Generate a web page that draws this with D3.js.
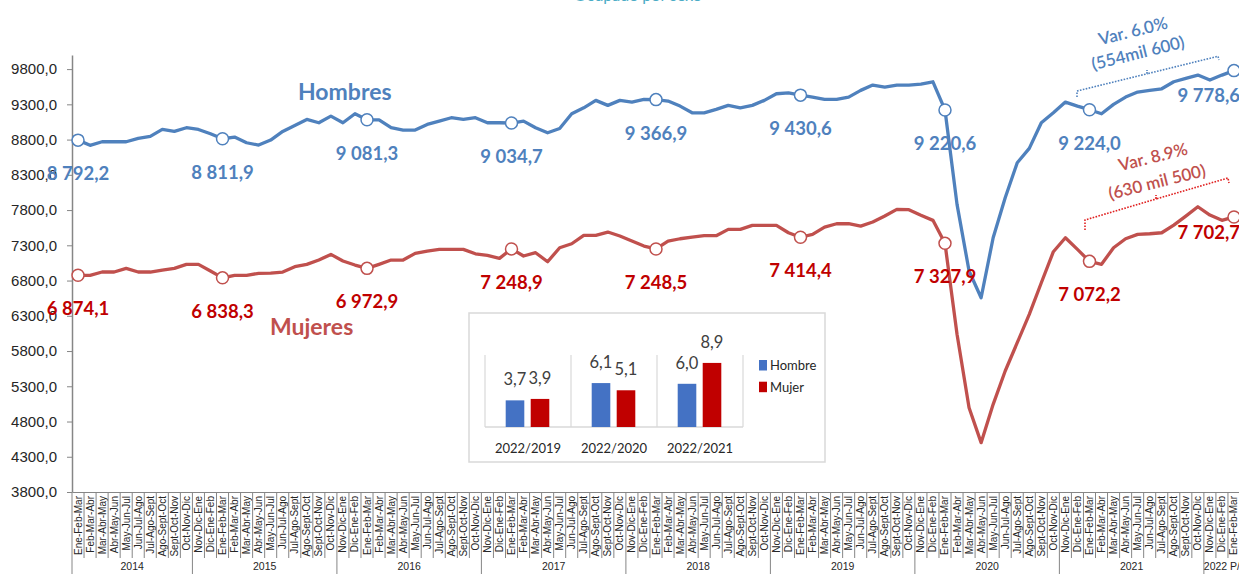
<!DOCTYPE html>
<html>
<head>
<meta charset="utf-8">
<script src="https://cdn.jsdelivr.net/npm/d3@7"></script>
<style>
  body { margin: 0; background: #fff; }
  svg { display: block; font-family: Lato, 'Open Sans', sans-serif; }
</style>
</head>
<body>
<div id="chart"></div>
<script>
// rolling quarters, one year after another
const trimestres = ['Nov-Dic-Ene', 'Dic-Ene-Feb', 'Ene-Feb-Mar', 'Feb-Mar-Abr', 'Mar-Abr-May', 'Abr-May-Jun',
  'May-Jun-Jul', 'Jun-Jul-Ago', 'Jul-Ago-Sept', 'Ago-Sept-Oct', 'Sept-Oct-Nov', 'Oct-Nov-Dic'];
const anios = ['2014', '2015', '2016', '2017', '2018', '2019', '2020', '2021', '2022 P/'];

// miles de personas
const hombres = [
  8792.2, 8718, 8769, 8769, 8769, 8817, 8845, 8944, 8916, 8968, // 2014
  8944, 8882, 8811.9, 8835, 8755, 8722, 8793, 8916, 9001, 9086, 9039, 9133, // 2015
  9039, 9166, 9081.3, 9081, 8968, 8935, 8935, 9015, 9062, 9110, 9086, 9110, // 2016
  9039, 9039, 9034.7, 9062, 8968, 8897, 8958, 9166, 9251, 9356, 9285, 9356, // 2017
  9332, 9370, 9366.9, 9346, 9275, 9180, 9180, 9228, 9285, 9251, 9285, 9356, // 2018
  9450, 9464, 9430.6, 9403, 9370, 9370, 9403, 9498, 9573, 9545, 9573, 9573, // 2019
  9588, 9620, 9220.6, 7881, 6935, 6556, 7407, 7975, 8471, 8675, 9039, 9180, // 2020
  9332, 9275, 9224.0, 9166, 9299, 9403, 9474, 9498, 9521, 9620, 9668, 9715, // 2021
  9644, 9715, 9778.6 // 2022
];
const mujeres = [
  6874.1, 6874, 6921, 6921, 6973, 6921, 6921, 6949, 6973, 7030, // 2014
  7030, 6935, 6838.3, 6874, 6874, 6902, 6905, 6921, 6996, 7030, 7091, 7171, // 2015
  7077, 7020, 6972.9, 7030, 7091, 7091, 7186, 7219, 7242, 7242, 7242, 7180, // 2016
  7157, 7115, 7248.9, 7148, 7195, 7067, 7266, 7322, 7441, 7441, 7488, 7432, // 2017
  7360, 7289, 7248.5, 7360, 7393, 7417, 7436, 7436, 7526, 7526, 7583, 7583, // 2018
  7583, 7478, 7414.4, 7455, 7559, 7606, 7606, 7573, 7630, 7715, 7810, 7805, // 2019
  7725, 7654, 7327.9, 6037, 4996, 4500, 5044, 5517, 5918, 6321, 6769, 7209, // 2020
  7407, 7242, 7072.2, 7030, 7266, 7393, 7455, 7464, 7478, 7587, 7715, 7847, // 2021
  7729, 7654, 7702.7 // 2022
];

// inset: variacion % Ene-Feb-Mar
const periodosVar = ['2022/2019', '2022/2020', '2022/2021'];
const varHombre = [3.7, 6.1, 6.0];
const varMujer = [3.9, 5.1, 8.9];

const width = 1239;
const height = 574;
const blue = '#4f81bd';
const red = '#c0504d';
const darkRed = '#c00000';
const grey = '#868686';

const es = d3.formatLocale({ decimal: ',', thousands: '\u00a0', grouping: [3], currency: ['', ''] });
const fmtTick = es.format('.1f');
const fmtLabel = es.format(',.1f');

// build category list
const periodos = [];
anios.forEach((a, k) => {
  let t = trimestres;
  if (k === 0) t = trimestres.slice(2);
  if (k === anios.length - 1) t = trimestres.slice(0, 3);
  t.forEach((m) => periodos.push({ anio: a, mes: m }));
});

const svg = d3.select('#chart').append('svg')
  .attr('width', width)
  .attr('height', height);

// title, mostly cropped at the top
svg.append('text')
  .attr('x', 638).attr('y', 0.5)
  .attr('text-anchor', 'middle')
  .style('font-size', '16px')
  .style('fill', '#4bacc6')
  .text('Ocupado por sexo');

const x = d3.scaleBand()
  .domain(d3.range(periodos.length))
  .range([72, 1240])
  .padding(0);
const cx = (i) => x(i) + x.bandwidth() / 2;

const y = d3.scaleLinear().domain([3800, 10000]).range([492, 55]);

// Y axis
const gy = svg.append('g')
  .attr('transform', 'translate(72,0)')
  .call(d3.axisLeft(y)
    .tickValues(d3.range(3800, 9801, 500))
    .tickFormat(fmtTick)
    .tickSize(5)
    .tickSizeOuter(0)
    .tickPadding(10));
gy.select('.domain').attr('stroke', grey).attr('stroke-width', 1.5);
gy.selectAll('.tick line').attr('stroke', grey);
gy.selectAll('.tick text')
  .style('font-size', '15px')
  .style('fill', '#262626');

// X axis with rotated quarter labels
const gx = svg.append('g')
  .attr('transform', 'translate(0,492)')
  .call(d3.axisBottom(x)
    .tickFormat((i) => periodos[i].mes)
    .tickSize(0)
    .tickSizeOuter(0));
gx.select('.domain').attr('stroke', grey).attr('stroke-width', 1.2);
gx.selectAll('.tick text')
  .attr('transform', 'rotate(-90)')
  .attr('text-anchor', 'end')
  .attr('x', -4)
  .attr('y', 0)
  .attr('dy', '0.35em')
  .style('font-family', "'Liberation Sans Narrow', 'Arial Narrow', sans-serif")
  .style('font-size', '10px')
  .style('fill', '#262626');

// separators between quarters and between years
const yearStart = [];
periodos.forEach((p, i) => { if (i === 0 || p.anio !== periodos[i - 1].anio) yearStart.push(i); });
yearStart.push(periodos.length);

svg.append('g').selectAll('line')
  .data(d3.range(periodos.length + 1))
  .join('line')
  .attr('x1', (i) => (i < periodos.length ? x(i) : x.range()[1]))
  .attr('x2', (i) => (i < periodos.length ? x(i) : x.range()[1]))
  .attr('y1', 492)
  .attr('y2', (i) => (yearStart.includes(i) ? 574 : 558))
  .attr('stroke', grey)
  .attr('stroke-width', 1);

svg.append('g').selectAll('text')
  .data(yearStart.slice(0, -1))
  .join('text')
  .attr('x', (s, k) => (x(s) + (k + 1 < yearStart.length - 1 ? x(yearStart[k + 1]) : x.range()[1])) / 2)
  .attr('y', 570)
  .attr('text-anchor', 'middle')
  .style('font-family', "'Liberation Sans Narrow', 'Arial Narrow', sans-serif")
  .style('font-size', '10.5px')
  .style('fill', '#262626')
  .text((s) => periodos[s].anio);

// lines
const line = d3.line().x((d, i) => cx(i)).y((d) => y(d));
const series = [
  { name: 'Hombres', values: hombres, color: blue, labelColor: blue, lastDy: 31 },
  { name: 'Mujeres', values: mujeres, color: red, labelColor: darkRed, lastDy: 22 },
];
const markerIdx = d3.range(0, periodos.length, 12);

series.forEach((s) => {
  svg.append('path')
    .datum(s.values)
    .attr('fill', 'none')
    .attr('stroke', s.color)
    .attr('stroke-width', 3.3)
    .attr('stroke-linejoin', 'round')
    .attr('d', line);

  svg.append('g').selectAll('circle')
    .data(markerIdx)
    .join('circle')
    .attr('cx', (i) => cx(i))
    .attr('cy', (i) => y(s.values[i]))
    .attr('r', 6)
    .attr('fill', '#fff')
    .attr('stroke', s.color)
    .attr('stroke-width', 1.5);

  const last = periodos.length - 1;
  svg.append('g').selectAll('text')
    .data(markerIdx)
    .join('text')
    .attr('x', (i) => (i === last ? cx(i) + 6 : cx(i)))
    .attr('y', (i) => y(s.values[i]) + (i === last ? s.lastDy : 40))
    .attr('text-anchor', (i) => (i === last ? 'end' : 'middle'))
    .style('font-size', '18.5px')
    .style('font-weight', 'bold')
    .style('fill', s.labelColor)
    .text((i) => fmtLabel(s.values[i]));
});

// series names
svg.append('text')
  .attr('x', 298).attr('y', 100)
  .style('font-size', '23px').style('font-weight', 'bold')
  .style('fill', blue)
  .text('Hombres');
svg.append('text')
  .attr('x', 270).attr('y', 335)
  .style('font-size', '23px').style('font-weight', 'bold')
  .style('fill', red)
  .text('Mujeres');

// variation annotations with dotted brackets
const notes = [
  { color: blue, lines: [['Var. 6.0%', 1133, 31], ['(554mil 600)', 1138, 53]],
    bracket: 'M1077,97 L1077,91 L1147,73.8 L1147,70 L1147,73.8 L1218,56.3 L1219,60' },
  { color: red, lines: [['Var. 8.9%', 1153, 157], ['(630 mil 500)', 1157, 182]],
    bracket: 'M1085,230 L1085,220 L1156,199 L1156,195 L1156,199 L1228,178 L1229,183' },
];
notes.forEach((n) => {
  n.lines.forEach(([t, tx, ty]) => {
    svg.append('text')
      .attr('transform', `translate(${tx},${ty}) rotate(-14)`)
      .attr('text-anchor', 'middle')
      .attr('dy', '0.35em')
      .style('font-size', '17px')
      .style('font-weight', '600')
      .style('fill', n.color)
      .text(t);
  });
  svg.append('path')
    .attr('d', n.bracket)
    .attr('fill', 'none')
    .attr('stroke', n.color === blue ? blue : '#e02020')
    .attr('stroke-width', 1.6)
    .attr('stroke-dasharray', '1.6,1.4');
});

// inset bar chart
const inset = svg.append('g');
inset.append('rect')
  .attr('x', 469).attr('y', 313)
  .attr('width', 356).attr('height', 149)
  .attr('fill', '#fff')
  .attr('stroke', '#d9d9d9')
  .attr('stroke-width', 1.5);

const xb = d3.scaleBand().domain(periodosVar).range([485, 743]);
const yb = d3.scaleLinear().domain([0, 10]).range([427, 355]);
const barW = 18.6;

inset.append('g').selectAll('line')
  .data(periodosVar.concat(['end']))
  .join('line')
  .attr('x1', (p) => (p === 'end' ? xb.range()[1] : xb(p)))
  .attr('x2', (p) => (p === 'end' ? xb.range()[1] : xb(p)))
  .attr('y1', yb(10)).attr('y2', yb(0))
  .attr('stroke', '#d9d9d9').attr('stroke-width', 1.2);
inset.append('line')
  .attr('x1', xb.range()[0]).attr('x2', xb.range()[1])
  .attr('y1', yb(0)).attr('y2', yb(0))
  .attr('stroke', '#d9d9d9').attr('stroke-width', 1.5);

const barSeries = [
  { values: varHombre, color: '#4472c4', off: 20.7, name: 'Hombre' },
  { values: varMujer, color: '#c00000', off: 45.7, name: 'Mujer' },
];
barSeries.forEach((b, k) => {
  inset.append('g').selectAll('rect')
    .data(periodosVar)
    .join('rect')
    .attr('x', (p) => xb(p) + b.off)
    .attr('y', (p, i) => yb(b.values[i]))
    .attr('width', barW)
    .attr('height', (p, i) => yb(0) - yb(b.values[i]))
    .attr('fill', b.color);
  inset.append('g').selectAll('text')
    .data(periodosVar)
    .join('text')
    .attr('x', (p) => xb(p) + b.off + barW / 2)
    .attr('y', (p, i) => yb(b.values[i]) - 15)
    .attr('text-anchor', 'middle')
    .style('font-size', '16.5px')
    .style('fill', '#404040')
    .text((p, i) => es.format('.1f')(b.values[i]));
  // legend
  inset.append('rect')
    .attr('x', 759).attr('y', 360 + k * 21.7)
    .attr('width', 8).attr('height', 10.5)
    .attr('fill', b.color);
  inset.append('text')
    .attr('x', 770).attr('y', 370 + k * 21.7)
    .style('font-size', '13px')
    .style('fill', '#262626')
    .text(b.name);
});

inset.append('g').selectAll('text')
  .data(periodosVar)
  .join('text')
  .attr('x', (p) => xb(p) + xb.bandwidth() / 2)
  .attr('y', 453)
  .attr('text-anchor', 'middle')
  .style('font-size', '13px')
  .style('fill', '#262626')
  .text((p) => p);
</script>
</body>
</html>
